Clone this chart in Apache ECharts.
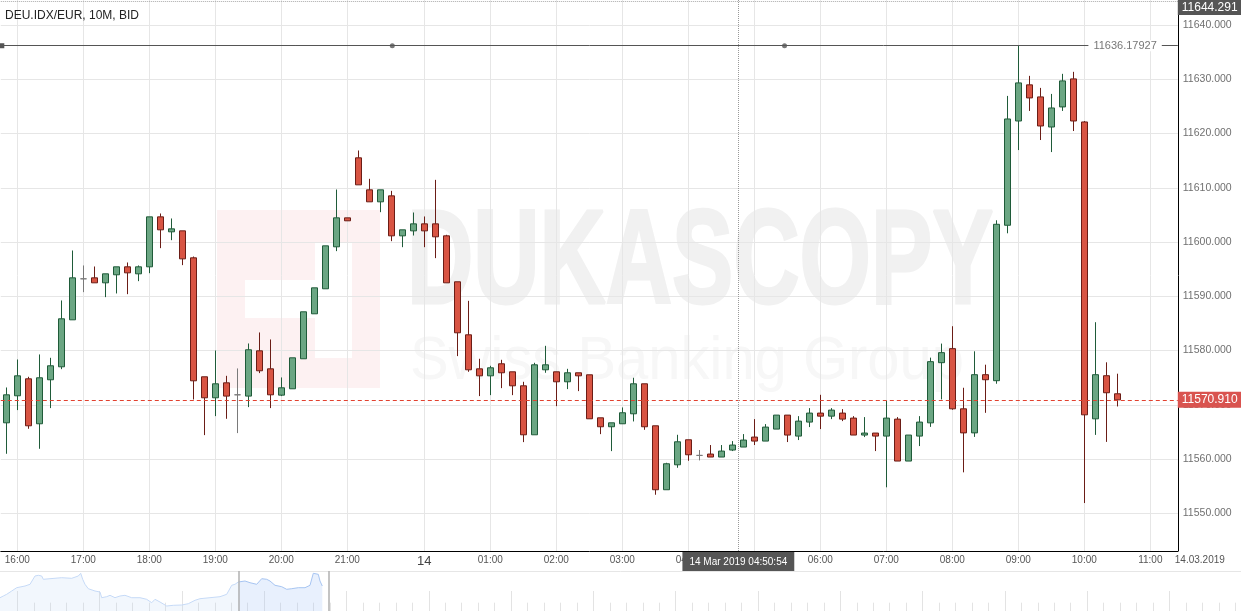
<!DOCTYPE html>
<html><head><meta charset="utf-8">
<script src="https://cdn.jsdelivr.net/npm/echarts@6/dist/echarts.min.js"></script>
<style>html,body{margin:0;padding:0;background:#fff}#c{width:1241px;height:611px}</style>
</head><body><div id="c"></div><script>
// ---------- data ----------
const title = 'DEU.IDX/EUR, 10M, BID';
const categories = [
 '15:50','16:00','16:10','16:20','16:30','16:40','16:50','17:00','17:10','17:20','17:30','17:40','17:50',
 '18:00','18:10','18:20','18:30','18:40','18:50','19:00','19:10','19:20','19:30','19:40','19:50',
 '20:00','20:10','20:20','20:30','20:40','20:50','21:00','21:10','21:20','21:30','21:40','21:50','22:00',
 '00:00','00:10','00:20','00:30','00:40','00:50','01:00','01:10','01:20','01:30','01:40','01:50',
 '02:00','02:10','02:20','02:30','02:40','02:50','03:00','03:10','03:20','03:30','03:40','03:50',
 '04:00','04:10','04:20','04:30','04:40','04:50','05:00','05:10','05:20','05:30','05:40','05:50',
 '06:00','06:10','06:20','06:30','06:40','06:50','07:00','07:10','07:20','07:30','07:40','07:50',
 '08:00','08:10','08:20','08:30','08:40','08:50','09:00','09:10','09:20','09:30','09:40','09:50',
 '10:00','10:10','10:20','10:30','10:40','10:50','11:00','11:10','11:20'
];
const hourLabels = ['16:00','17:00','18:00','19:00','20:00','21:00','00:00','01:00','02:00','03:00',
 '04:00','05:00','06:00','07:00','08:00','09:00','10:00','11:00'];
const dayLabel = '14';
const dateLabel = '14.03.2019';
const opens = [11566.68,11571.66,11574.79,11566.50,11574.61,11577.00,11585.66,11593.22,11593.40,11592.48,
 11593.96,11595.43,11594.14,11595.43,11604.64,11601.88,11602.06,11597.09,11575.16,11571.29,
 11574.05,11571.84,11571.60,11579.95,11576.63,11571.78,11572.95,11578.48,11586.77,11591.38,
 11599.12,11604.46,11615.52,11609.62,11607.41,11608.51,11601.14,11602.06,11603.35,11603.35,
 11601.14,11592.67,11582.90,11576.63,11575.34,11577.56,11576.08,11573.50,11564.47,11576.45,
 11576.08,11574.24,11575.90,11575.53,11567.60,11565.95,11566.50,11568.34,11573.87,11566.13,
 11554.34,11558.94,11563.55,11560.67,11560.92,11560.37,11561.66,11562.21,11564.05,11563.31,
 11565.52,11568.10,11564.23,11566.81,11568.47,11567.91,11568.47,11567.55,11564.42,11564.79,
 11564.23,11567.36,11559.63,11564.23,11566.67,11577.76,11580.35,11569.26,11564.82,11575.55,
 11574.44,11603.09,11622.31,11628.97,11626.75,11621.20,11624.90,11630.07,11622.13,11567.41,
 11575.36,11572.03];
const closes = [11571.84,11575.34,11566.13,11574.98,11577.19,11585.85,11593.40,11593.22,11592.48,11594.14,
 11595.43,11594.32,11595.43,11604.64,11602.25,11602.43,11596.90,11574.42,11571.29,11573.87,
 11571.60,11571.84,11580.14,11576.27,11571.84,11573.13,11578.66,11587.14,11591.56,11599.30,
 11604.46,11603.91,11610.54,11607.41,11609.62,11601.14,11602.25,11603.35,11602.06,11600.96,
 11592.48,11583.27,11576.45,11575.34,11576.82,11575.90,11573.50,11564.47,11577.37,11577.37,
 11574.24,11575.90,11575.34,11567.42,11565.95,11566.68,11568.53,11573.87,11565.95,11554.34,
 11559.13,11563.18,11560.79,11560.67,11560.37,11561.47,11562.58,11563.50,11563.31,11565.89,
 11568.10,11564.42,11566.99,11568.47,11567.91,11569.02,11567.36,11564.42,11564.79,11564.23,
 11567.55,11559.63,11564.42,11566.81,11577.95,11579.61,11569.26,11564.82,11575.55,11574.62,
 11603.27,11622.68,11629.33,11626.56,11621.39,11624.71,11629.70,11622.31,11568.15,11575.55,
 11572.22,11570.91];
const lows = [11560.97,11569.02,11565.58,11561.89,11569.39,11576.57,11585.66,11590.76,11592.48,11589.84,
 11590.52,11590.39,11592.79,11594.26,11598.87,11600.34,11595.74,11570.98,11564.41,11567.91,
 11567.42,11564.78,11569.57,11575.84,11569.39,11571.60,11572.95,11578.48,11586.77,11591.38,
 11598.32,11603.91,11610.54,11607.41,11605.50,11600.16,11599.05,11601.20,11599.05,11597.03,
 11592.48,11578.97,11576.08,11571.60,11571.78,11573.07,11571.78,11563.12,11564.47,11575.90,
 11569.75,11572.89,11572.52,11567.42,11564.59,11561.46,11566.50,11566.93,11565.39,11553.42,
 11554.34,11558.39,11559.68,11559.75,11560.37,11560.37,11561.47,11562.21,11562.58,11563.31,
 11565.52,11563.13,11563.50,11565.89,11565.52,11567.36,11566.99,11564.42,11564.05,11561.47,
 11554.79,11559.63,11559.63,11562.39,11565.93,11570.99,11569.08,11557.55,11564.08,11568.52,
 11573.88,11601.61,11616.95,11624.16,11618.80,11616.58,11624.16,11620.46,11551.89,11564.45,
 11563.16,11569.69];
const highs = [11573.19,11578.35,11575.16,11579.28,11578.66,11589.23,11598.44,11595.68,11595.49,11594.14,
 11595.43,11596.23,11595.68,11604.64,11605.26,11604.34,11602.06,11597.33,11575.16,11580.01,
 11575.34,11576.70,11581.30,11583.33,11582.04,11575.04,11578.66,11587.14,11591.56,11599.30,
 11609.68,11604.46,11616.87,11611.65,11609.62,11609.43,11602.25,11605.44,11604.71,11611.46,
 11601.33,11592.67,11589.16,11578.48,11577.19,11578.29,11576.08,11574.24,11577.74,11580.87,
 11576.08,11576.63,11575.90,11575.53,11567.60,11566.68,11569.51,11574.98,11573.87,11566.13,
 11559.31,11564.47,11563.55,11561.66,11562.58,11562.58,11563.31,11564.60,11567.36,11566.44,
 11568.10,11568.10,11567.91,11569.39,11571.84,11569.39,11569.20,11567.91,11567.73,11564.79,
 11570.74,11567.73,11564.42,11567.91,11578.69,11581.28,11584.48,11573.14,11579.86,11577.39,
 11604.01,11626.93,11636.18,11630.63,11628.41,11627.30,11631.00,11631.37,11622.31,11585.22,
 11577.83,11575.73];
const yRange = [11543.05, 11644.61];
const lastPrice = 11570.910;
const drawnLevel = 11636.17927;
const drawnHandles = [35.09, 70.75];          // slot positions of the drawing handles
const crossX = 66.55;                         // crosshair slot position
const crossY = 11644.291;
const crossLabel = '14 Mar 2019 04:50:54';
// navigator overview (x in navigator tick units, level 0..40)
const navX = [-1.051,-0.851,-0.644,-0.340,-0.036,0.061,0.468,0.772,1.075,1.276,1.482,1.580,1.987,2.697,
 3.305,3.706,3.852,3.973,4.113,4.313,4.721,5.024,5.128,5.431,5.632,5.936,6.239,6.543,6.950,7.454,
 7.861,8.165,8.366,8.670,9.077,9.478,9.988,10.389,10.796,11.100,11.707,12.315,12.722,13.026,13.226,
 13.329,13.426,13.834,14.137,14.544,14.848,15.152,15.352,15.656,16.063,16.367,16.671,17.072,17.479,
 17.783,17.983,18.287,18.390,18.530];
const navLevel = [13.3,15,16.7,20,23.3,24.3,25,26.7,35,35.7,35,31.7,32.3,33.3,
 32.7,35,37.7,31.7,26.7,22.3,20,19,13.3,14.3,15.7,13.3,15,15.7,13.3,13.3,
 11.7,8.3,11.7,9,5,5.7,6,7.3,10.7,12.3,13.3,14.3,16.7,25.7,26.7,
 25,29,30,28.3,26.7,32.3,31.7,30,25.7,24.3,21.7,22.3,23.3,23.3,
 25.7,37.7,36.7,30,25];
const navSel = [13.426, 18.955];
const navRange = [-1.051, 74.344];

// ---------- chart ----------
const chart = echarts.init(document.getElementById('c'), null, {renderer: 'canvas'});
const candleData = opens.map((o, i) => [o, closes[i], lows[i], highs[i]]);
const navAll = navX.map((x, i) => [x, navLevel[i]]);
const navLight = navAll.filter(p => p[0] <= navSel[0]);
const navDark = navAll.filter(p => p[0] >= navSel[0]);
const FONT = 'Liberation Sans, Arial, sans-serif';

const option = {
  animation: false,
  backgroundColor: '#fff',
  textStyle: {fontFamily: FONT},
  title: {text: title, left: 5, top: 10, padding: 0,
    textStyle: {fontSize: 12, fontWeight: 'normal', color: '#222', fontFamily: FONT}},
  grid: [
    {left: 0.8, right: 63.2, top: 0, bottom: 60},
    {left: 17.3, right: 0, top: 591, bottom: 0},
    {left: 0, right: 0, top: 571, bottom: 0}
  ],
  xAxis: [
    {type: 'category', gridIndex: 0, data: categories, boundaryGap: true,
     axisLine: {onZero: false, lineStyle: {color: '#000', width: 1}}, axisTick: {show: false}, splitLine: {show: false},
     axisLabel: {interval: (i, v) => hourLabels.includes(v), margin: 4, color: '#555', fontSize: 10,
       formatter: v => v === '00:00' ? '{d|' + dayLabel + '}' : v,
       rich: {d: {fontSize: 13, color: '#444', fontFamily: FONT}}},
     name: dateLabel, nameLocation: 'end', nameGap: -3,
     nameTextStyle: {align: 'left', verticalAlign: 'top', padding: [4, 0, 0, 0], fontSize: 10, color: '#555'}},
    {type: 'value', gridIndex: 0, min: -0.5, max: 106.5, show: false, axisLine: {onZero: false}},
    {type: 'value', gridIndex: 1, min: 0, max: navRange[1], interval: 5,
     axisLine: {show: false, onZero: false}, axisLabel: {show: false}, splitLine: {show: false},
     axisTick: {show: true, inside: true, length: 20, lineStyle: {color: '#e3e3e3'}},
     minorTick: {show: true, splitNumber: 5, length: 8.3, lineStyle: {color: '#e3e3e3'}}},
    {type: 'value', gridIndex: 2, min: navRange[0], max: navRange[1], position: 'top',
     axisLine: {show: true, onZero: false, lineStyle: {color: '#e6e6e6'}}, axisTick: {show: false},
     axisLabel: {show: false}, splitLine: {show: false}}
  ],
  yAxis: [
    {type: 'value', gridIndex: 0, position: 'right', min: yRange[0], max: yRange[1], splitNumber: 10,
     axisLine: {show: true, onZero: false, lineStyle: {color: '#000', width: 1}}, axisTick: {show: false},
     axisLabel: {formatter: v => v.toFixed(3), color: '#707070', fontSize: 10.5, margin: 5,
       showMinLabel: false, showMaxLabel: false},
     splitLine: {show: true, showMinLine: false, showMaxLine: false, lineStyle: {color: '#e6e6e6'}}},
    {type: 'value', gridIndex: 1, show: false, min: 0, max: 1, axisLine: {onZero: false}},
    {type: 'value', gridIndex: 2, show: false, min: 0, max: 40, axisLine: {onZero: false}}
  ],
  graphic: {elements: [
    {type: 'rect', z: -5, silent: true, shape: {x: 217, y: 210, width: 163, height: 178}, style: {fill: '#fdf1f2'}},
    {type: 'rect', z: -4, silent: true, shape: {x: 245, y: 280, width: 107, height: 38}, style: {fill: '#fff'}},
    {type: 'rect', z: -4, silent: true, shape: {x: 315, y: 242, width: 37, height: 116}, style: {fill: '#fff'}},
    {type: 'text', z: -5, silent: true, x: 407, y: 200, scaleX: 0.69,
     style: {text: 'DUKASCOPY', font: 'bold 133px ' + FONT, fill: '#f1f1f1', stroke: '#f1f1f1', lineWidth: 3,
       verticalAlign: 'top'}},
    {type: 'text', z: -5, silent: true, x: 410, y: 332, scaleX: 0.95,
     style: {text: 'Swiss Banking Group', font: '61px ' + FONT, fill: '#f7f7f7', verticalAlign: 'top'}}
  ]},
  series: [
    {name: 'grid', type: 'line', xAxisIndex: 0, yAxisIndex: 0, data: [], z: 1, silent: true,
     markLine: {silent: true, symbol: 'none', animation: false, z: 1, label: {show: false},
       lineStyle: {color: '#e6e6e6', width: 1, type: 'solid'},
       data: hourLabels.map(h => ({xAxis: h}))}},
    {name: 'DEU.IDX/EUR', type: 'candlestick', xAxisIndex: 0, yAxisIndex: 0, z: 3,
     data: candleData, barWidth: 6,
     itemStyle: {color: '#6ba683', color0: '#d85443', borderColor: '#1f5b39', borderColor0: '#6b1d16',
       borderColorDoji: '#7a7a7a', borderWidth: 1}},
    {name: 'annot', type: 'scatter', xAxisIndex: 1, yAxisIndex: 0, z: 5, silent: true,
     data: drawnHandles.map(x => [x, drawnLevel]), symbolSize: 5, itemStyle: {color: '#555'},
     markLine: {silent: true, symbol: 'none', animation: false, data: [
       {yAxis: drawnLevel, symbol: ['arrow', 'arrow'], symbolSize: [5, 7],
        lineStyle: {color: '#555', width: 1, type: 'solid'},
        label: {show: true, position: 'insideEnd', distance: 16, formatter: String(drawnLevel),
          backgroundColor: '#fff', padding: [0, 5], color: '#777', fontSize: 11}},
       {yAxis: lastPrice, lineStyle: {color: '#e2412f', width: 1, type: [4, 3]},
        label: {show: true, position: 'end', distance: 0, formatter: lastPrice.toFixed(3),
          backgroundColor: '#d9534f', color: '#fff', fontSize: 12, padding: [1, 4], lineHeight: 14}},
       {yAxis: crossY, lineStyle: {color: '#aaa', width: 1, type: 'dotted'}, label: {show: false}},
       {xAxis: crossX, lineStyle: {color: '#999', width: 1, type: 'dotted'},
        label: {show: true, position: 'start', distance: 1, formatter: crossLabel,
          backgroundColor: '#555', color: '#fff', fontSize: 10, padding: [5, 7, 4, 7]}}
     ]}},
    {name: 'navLight', type: 'line', xAxisIndex: 3, yAxisIndex: 2, data: navLight, symbol: 'none',
     silent: true, z: 2, lineStyle: {color: '#c6daf7', width: 1},
     areaStyle: {color: 'rgba(190,212,245,0.28)'}},
    {name: 'navSel', type: 'line', xAxisIndex: 3, yAxisIndex: 2, data: navDark, symbol: 'none',
     silent: true, z: 2, lineStyle: {color: '#a7c5f2', width: 1},
     areaStyle: {color: 'rgba(160,195,245,0.35)'},
     markLine: {silent: true, symbol: 'none', animation: false, label: {show: false},
       lineStyle: {color: '#b0b0b0', width: 1.5, type: 'solid'},
       data: navSel.map(x => ({xAxis: x}))}}
  ]
};
chart.setOption(option);

// price box for the crosshair level (clamped to the top of the plot)
const cy = chart.convertToPixel({yAxisIndex: 0}, crossY);
const rightX = chart.convertToPixel({xAxisIndex: 1}, 106.5);
const boxTop = Math.max(0, cy - 7);
chart.setOption({graphic: {elements: option.graphic.elements.concat([
  {type: 'text', z: 20, silent: true, x: rightX, y: boxTop,
   style: {text: crossY.toFixed(3), font: '12px ' + FONT, fill: '#fff', backgroundColor: '#555',
     padding: [1, 4, 1, 4], lineHeight: 13, verticalAlign: 'top'}}
])}});
</script></body></html>
